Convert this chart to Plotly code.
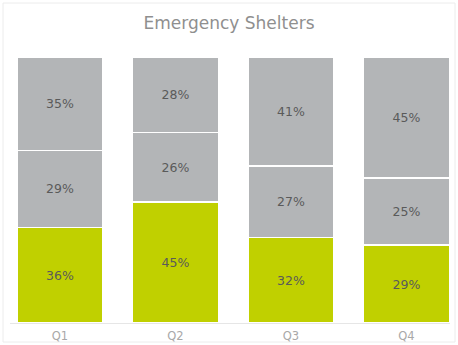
import plotly.graph_objects as go

quarters = ["Q1", "Q2", "Q3", "Q4"]
green_vals = [36, 45, 32, 29]
mid_vals = [29, 26, 27, 25]
top_vals = [35, 28, 41, 45]

W, H = 458, 345
GREEN = "#c0d000"
GRAY = "#b3b5b7"
TXT = "#5a5a5a"
FONT = "DejaVu Sans"

fig = go.Figure()
for vals, col in [(green_vals, GREEN), (mid_vals, GRAY), (top_vals, GRAY)]:
    fig.add_trace(go.Bar(
        x=quarters, y=vals, width=0.745,
        marker=dict(color=col, line=dict(color="white", width=1.2)),
        text=[f"{v}%" for v in vals], textposition="inside",
        insidetextanchor="middle",
        textfont=dict(family=FONT, size=12.5, color=TXT),
        hoverinfo="skip", showlegend=False,
    ))

fig.update_layout(
    width=W, height=H,
    barmode="stack", barnorm="percent",
    paper_bgcolor="white", plot_bgcolor="white",
    margin=dict(l=10, r=8, t=57, b=22),
    title=dict(text="Emergency Shelters", x=0.5, xanchor="center",
               y=1 - 23.5 / H, yanchor="middle",
               font=dict(family=FONT, size=17, color="#8f8f8f")),
    xaxis=dict(type="category", range=[-0.433, 3.377], automargin=False,
               showgrid=False, zeroline=False,
               showline=True, linecolor="#e6e6e6", linewidth=1,
               ticks="", ticklabelstandoff=2,
               tickfont=dict(family=FONT, size=11.5, color="#a8a8a8")),
    yaxis=dict(range=[0, 100], visible=False, fixedrange=True, automargin=False),
    uniformtext=dict(minsize=8, mode="show"),
    shapes=[dict(type="rect", xref="paper", yref="paper",
                 x0=-7 / 440, x1=1 + 5 / 440,
                 y0=-(19) / 266, y1=1 + 54 / 266,
                 line=dict(color="#ececec", width=1), layer="below")],
)

fig.write_html("out.html", config={"displayModeBar": False},
               post_script="document.body.style.margin='0';")
